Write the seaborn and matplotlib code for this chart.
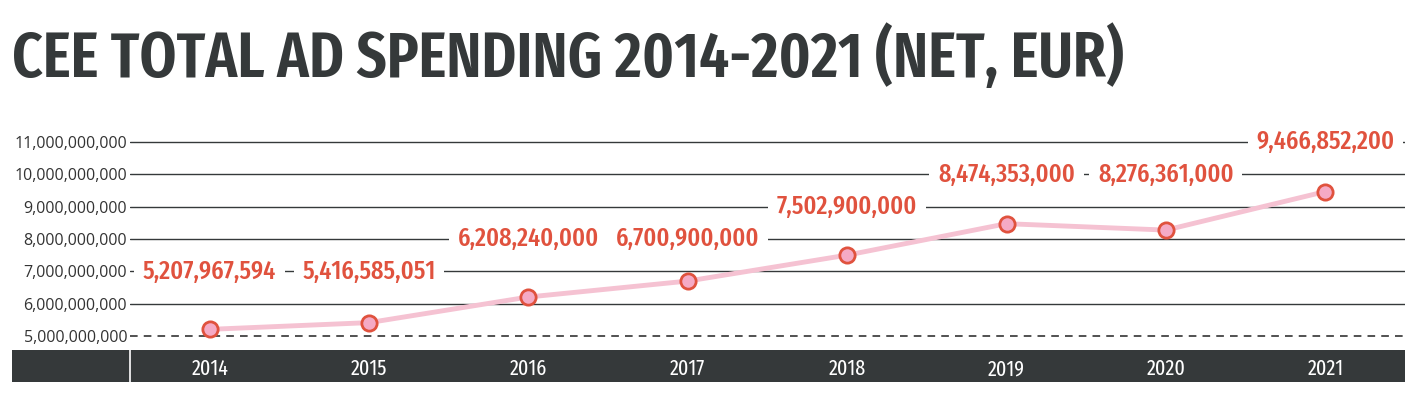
import numpy as np
import pandas as pd
import matplotlib
matplotlib.use("Agg")
import matplotlib.pyplot as plt
import seaborn as sns
from matplotlib import font_manager
from matplotlib.patches import Rectangle
from matplotlib.lines import Line2D

# data
years = ["2014", "2015", "2016", "2017", "2018", "2019", "2020", "2021"]
spend = [5207967594, 5416585051, 6208240000, 6700900000,
         7502900000, 8474353000, 8276361000, 9466852200]
y_ticks = [5e9, 6e9, 7e9, 8e9, 9e9, 10e9, 11e9]

sns.set_theme(style="white")
plt.rcParams["font.family"] = ["Open Sans", "DejaVu Sans"]


# the reference uses a narrow display font, take the most condensed face we have
def width_rank(f):
    s = (f.name + " " + f.fname).lower().replace("_", "").replace("-", "").replace(" ", "")
    if "extracondensed" in s or "ultracondensed" in s:
        return 0
    if "semicondensed" in s:
        return 2
    if "condensed" in s or "narrow" in s:
        return 1
    return 9


def weight_of(f):
    w = f.weight
    if isinstance(w, str):
        w = font_manager.weight_dict.get(w, 400)
    return w


def pick(want):
    cands = [f for f in font_manager.fontManager.ttflist
             if width_rank(f) < 9 and f.style == "normal"]
    if not cands:
        return font_manager.FontProperties(family="DejaVu Sans",
                                           weight="bold" if want >= 600 else "normal")
    cands.sort(key=lambda f: (width_rank(f), abs(weight_of(f) - want)))
    return font_manager.FontProperties(fname=cands[0].fname)


title_fp = pick(600)
label_fp = pick(480)
year_fp = pick(400)

RED = "#e0523e"
DARK = "#35393a"

df = pd.DataFrame({"year": years, "spend": spend})

fig = plt.figure(figsize=(14.23, 3.98), dpi=100)
ax = fig.add_axes([130 / 1423, 1 - 350 / 398, 1275 / 1423, 220 / 398])

# horizontal grid lines, the lowest one dashed
for t in y_ticks:
    if t == y_ticks[0]:
        ax.axhline(t, color="#222222", lw=1.1, ls=(0, (5, 4)), zorder=1)
    else:
        ax.axhline(t, color=DARK, lw=1.0, zorder=1)

sns.lineplot(data=df, x="year", y="spend", ax=ax, color="#f5c2d2", lw=3.5,
             marker="o", markersize=11, markerfacecolor="#f5aac5",
             markeredgecolor=RED, markeredgewidth=2, zorder=3)

# value labels sit on the grid line above the point, on a white box
value_texts = []
for i, v in enumerate(spend):
    ly = (np.ceil(v / 1e9) + 1) * 1e9
    t = ax.text(i, ly, f"{v:,}", ha="center", va="center", color=RED,
                fontproperties=label_fp.copy(), zorder=4,
                bbox=dict(facecolor="white", edgecolor="none", pad=4))
    value_texts.append(t)

ax.set_xlim(-0.5, len(years) - 0.5)
ax.set_ylim(4.57e9, 11.37e9)
ax.set_yticks(y_ticks)
ax.set_yticklabels([f"{int(t):,}" for t in y_ticks], fontsize=11.5,
                   color="#333333")
ax.tick_params(axis="y", length=0, pad=2)
ax.tick_params(axis="x", length=0, pad=6, colors="white")
for lbl in ax.get_xticklabels():
    lbl.set_fontproperties(year_fp.copy())
ax.set_xlabel("")
ax.set_ylabel("")
for s in ax.spines.values():
    s.set_visible(False)

# dark band behind the year labels
fig.patches.append(Rectangle((12 / 1423, 1 - 382 / 398), 1393 / 1423, 32 / 398,
                             transform=fig.transFigure, facecolor=DARK,
                             edgecolor="none", zorder=-5))
fig.lines.append(Line2D([130 / 1423, 130 / 1423], [1 - 382 / 398, 1 - 350 / 398],
                        transform=fig.transFigure, color="white", lw=1.2, zorder=-4))

title = fig.text(12 / 1423, 1 - 58 / 398, "CEE TOTAL AD SPENDING 2014-2021 (NET, EUR)",
                 ha="left", va="center", fontproperties=title_fp.copy(), color=DARK)


# size the texts so that their widths match the reference
def fit(texts, target, start):
    r = fig.canvas.get_renderer()
    for t in texts:
        t.set_fontsize(start)
    w = texts[0].get_window_extent(r).width
    for t in texts:
        t.set_fontsize(start * target / w)


fit([title], 1113, 40)
fit(value_texts, 134, 20)
fit(list(ax.get_xticklabels()), 37, 16)

fig.savefig("out.png", dpi=100)
